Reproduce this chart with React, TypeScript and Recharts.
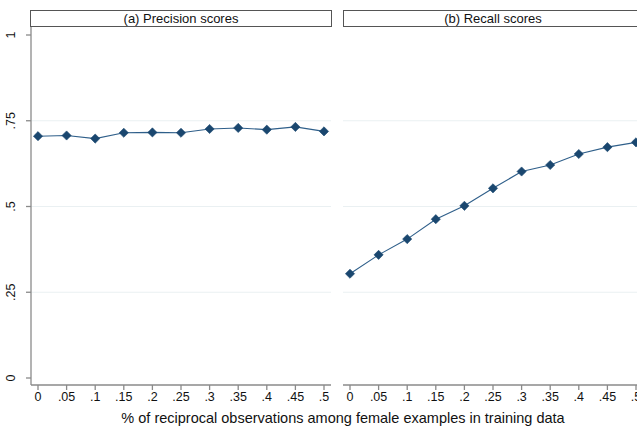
// Precision / recall by share of reciprocal observations — two Stata-style panels

import React from "react";
import { LineChart, Line, XAxis, YAxis, ReferenceLine } from "recharts";

const shares = [0, 0.05, 0.1, 0.15, 0.2, 0.25, 0.3, 0.35, 0.4, 0.45, 0.5];
const precision = [0.705, 0.707, 0.698, 0.715, 0.716, 0.715, 0.726, 0.729, 0.724, 0.732, 0.719];
const recall = [0.304, 0.359, 0.405, 0.463, 0.502, 0.553, 0.602, 0.621, 0.653, 0.673, 0.687];
const yTicks = [0, 0.25, 0.5, 0.75, 1];
const gridValues = [0.25, 0.5, 0.75];
const panelTitles = ["(a) Precision scores", "(b) Recall scores"];
const xTitle = "% of reciprocal observations among female examples in training data";

const NAVY = "#1a476f";
const AXIS = "#8a8a8a";
const GRID = "#eaf0f2";
const FONT = "'Liberation Sans', Arial, Helvetica, sans-serif";

// Stata drops the leading zero: .05, .5, .75
function fmt(v: number): string {
  if (v === 0) return "0";
  if (v === 1) return "1";
  return String(v).replace(/^0/, "");
}

function Diamond(props: { cx?: number; cy?: number; index?: number }) {
  const { cx, cy } = props;
  if (cx == null || cy == null) return null;
  const r = 4.6;
  return (
    <polygon
      key={props.index}
      points={`${cx},${cy - r} ${cx + r},${cy} ${cx},${cy + r} ${cx - r},${cy}`}
      fill={NAVY}
      stroke={NAVY}
      strokeWidth={0.6}
    />
  );
}

function YTick(props: { x?: number; y?: number; payload?: { value: number } }) {
  const { x = 0, y = 0, payload } = props;
  return (
    <text
      x={x - 3}
      y={y}
      transform={`rotate(-90, ${x - 3}, ${y})`}
      textAnchor="middle"
      dy={-6}
      fontSize={12.5}
      fontFamily={FONT}
      fill="#111"
    >
      {fmt(payload ? payload.value : 0)}
    </text>
  );
}

function Panel({ data, showY }: { data: { share: number; value: number }[]; showY: boolean }) {
  return (
    <LineChart
      width={showY ? 340 : 300}
      height={427}
      data={data}
      margin={{ top: 27, right: showY ? 9 : 0, bottom: 21, left: 0 }}
    >
      {gridValues.map((g) => (
        <ReferenceLine key={g} y={g} stroke={GRID} strokeWidth={1.2} ifOverflow="extendDomain" />
      ))}
      <XAxis
        dataKey="share"
        type="number"
        domain={[0, 0.5]}
        ticks={shares}
        padding={{ left: 7, right: 7 }}
        tickFormatter={fmt}
        stroke={AXIS}
        strokeWidth={1.3}
        tickSize={5}
        tick={{ fontSize: 12.5, fontFamily: FONT, fill: "#111" }}
        height={21}
        interval={0}
      />
      <YAxis
        type="number"
        domain={[0, 1]}
        ticks={yTicks}
        padding={{ top: 8, bottom: 7 }}
        width={showY ? 31 : 0}
        hide={!showY}
        stroke={AXIS}
        strokeWidth={1.3}
        tickSize={5}
        tick={<YTick />}
        interval={0}
      />
      <Line
        dataKey="value"
        type="linear"
        stroke="#2f5f8a"
        strokeWidth={1.1}
        dot={<Diamond />}
        activeDot={false}
        isAnimationActive={false}
      />
    </LineChart>
  );
}

function TitleBox({ left, width, label }: { left: number; width: number; label: string }) {
  return (
    <div
      style={{
        position: "absolute",
        left,
        top: 10,
        width,
        height: 17,
        boxSizing: "border-box",
        border: "1px solid #555",
        background: "#fff",
        fontFamily: FONT,
        fontSize: 13,
        lineHeight: "15px",
        textAlign: "center",
        color: "#111",
      }}
    >
      {label}
    </div>
  );
}

export default function App() {
  const precisionData = shares.map((s, i) => ({ share: s, value: precision[i] }));
  const recallData = shares.map((s, i) => ({ share: s, value: recall[i] }));
  return (
    <div
      style={{
        position: "absolute",
        left: 0,
        top: 0,
        width: 637,
        height: 427,
        overflow: "hidden",
        background: "#fff",
      }}
    >
      <div style={{ position: "absolute", left: 0, top: 0 }}>
        <Panel data={precisionData} showY />
      </div>
      <div style={{ position: "absolute", left: 343, top: 0 }}>
        <Panel data={recallData} showY={false} />
      </div>
      <TitleBox left={30} width={302} label={panelTitles[0]} />
      <TitleBox left={343} width={300} label={panelTitles[1]} />
      <div
        style={{
          position: "absolute",
          left: 0,
          width: 686,
          top: 410,
          textAlign: "center",
          fontFamily: FONT,
          fontSize: 14.5,
          color: "#111",
        }}
      >
        {xTitle}
      </div>
    </div>
  );
}
